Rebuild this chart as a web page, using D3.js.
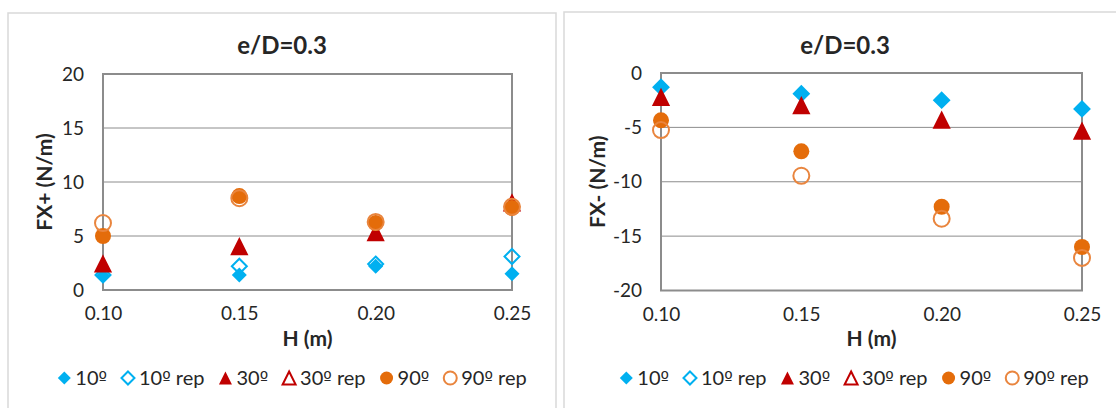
<!DOCTYPE html>
<html>
<head>
<meta charset="utf-8">
<script src="https://cdn.jsdelivr.net/npm/d3@7/dist/d3.min.js"></script>
<style>
  html, body { margin: 0; padding: 0; background: #fff; }
  svg { display: block; }
  text { font-family: Lato, "Open Sans", sans-serif; fill: #262626; }
</style>
</head>
<body>
<svg id="chart" width="1116" height="408"></svg>
<script>
// Wave height (m)
const heights = [0.10, 0.15, 0.20, 0.25];
const xTickLabels = ["0.10", "0.15", "0.20", "0.25"];

// Positive horizontal force FX+ (N/m)
const fxPos10 = [1.3, 1.4, 2.2, 1.5];
const fxPos10rep = [1.4, 2.2, 2.4, 3.1];
const fxPos30 = [2.4, 4.0, 5.3, 8.05];
const fxPos30rep = [2.4, 4.0, 5.3, 8.05];
const fxPos90 = [5.0, 8.7, 6.2, 7.6];
const fxPos90rep = [6.2, 8.5, 6.3, 7.7];

// Negative horizontal force FX- (N/m)
const fxNeg10 = [-1.3, -1.9, -2.5, -3.3];
const fxNeg10rep = [-1.3, -1.9, -2.5, -3.3];
const fxNeg30 = [-2.25, -3.0, -4.35, -5.35];
const fxNeg30rep = [-2.25, -3.0, -4.35, -5.35];
const fxNeg90 = [-4.35, -7.2, -12.3, -16.0];
const fxNeg90rep = [-5.25, -9.45, -13.4, -17.0];

const yTicksPos = [0, 5, 10, 15, 20];
const yTicksNeg = [-20, -15, -10, -5, 0];

const seriesNames = ["10º", "10º rep", "30º", "30º rep", "90º", "90º rep"];

// marker style per series
const styles = [
  { shape: "diamond", fill: "#00B0F0", stroke: "none" },
  { shape: "diamond", fill: "none", stroke: "#00B0F0" },
  { shape: "triangle", fill: "#C00000", stroke: "none" },
  { shape: "triangle", fill: "none", stroke: "#C00000" },
  { shape: "circle", fill: "#E46C0A", stroke: "none" },
  { shape: "circle", fill: "none", stroke: "#E9853E" }
];

function markerPath(shape, s) {
  const h = s / 2;
  if (shape === "diamond") return `M0,${-h}L${h},0L0,${h}L${-h},0Z`;
  if (shape === "triangle") return `M0,${-h}L${h},${h}L${-h},${h}Z`;
  const p = d3.path();
  p.arc(0, 0, h, 0, 2 * Math.PI);
  p.closePath();
  return p.toString();
}

// write a label, giving the ordinal sign a face that draws it underlined
function ordinalText(sel, str) {
  str.split(/(º)/).filter(s => s.length).forEach(part => {
    const ts = sel.append("tspan").text(part);
    if (part === "º") ts.attr("font-family", "'DejaVu Sans', sans-serif").attr("font-size", "0.9em");
  });
}

const svg = d3.select("#chart");

function drawPanel(cfg) {
  const g = svg.append("g");

  // outer frame
  g.append("rect")
    .attr("x", cfg.frame[0]).attr("y", cfg.frame[1])
    .attr("width", cfg.frame[2]).attr("height", cfg.frame[3])
    .attr("fill", "#fff").attr("stroke", "#D9D9D9").attr("stroke-width", 1.5);

  const x = d3.scaleLinear().domain([0.10, 0.25]).range([cfg.left, cfg.right]);
  const y = d3.scaleLinear().domain(cfg.yDomain).range([cfg.bottom, cfg.top]);

  // horizontal gridlines
  g.append("g").selectAll("line").data(cfg.yTicks).join("line")
    .attr("x1", cfg.left).attr("x2", cfg.right)
    .attr("y1", d => y(d)).attr("y2", d => y(d))
    .attr("stroke", "#8C8C8C").attr("stroke-width", 1);

  // plot area border
  g.append("rect")
    .attr("x", cfg.left).attr("y", cfg.top)
    .attr("width", cfg.right - cfg.left).attr("height", cfg.bottom - cfg.top)
    .attr("fill", "none").attr("stroke", "#8C8C8C").attr("stroke-width", 2);

  // y axis labels
  const yAxis = d3.axisLeft(y).tickValues(cfg.yTicks).tickSize(0).tickPadding(19)
    .tickFormat(d => d3.format("d")(d).replace("−", "-"));
  const ya = g.append("g").attr("transform", `translate(${cfg.left},0)`).call(yAxis);
  ya.select(".domain").remove();
  ya.selectAll("text").attr("font-size", 19).attr("fill", "#262626")
    .attr("font-family", "Lato, sans-serif");

  // x axis labels
  const xAxis = d3.axisBottom(x).tickValues(heights).tickSize(0).tickPadding(17)
    .tickFormat((d, i) => xTickLabels[i]);
  const xa = g.append("g").attr("transform", `translate(0,${cfg.bottom})`).call(xAxis);
  xa.select(".domain").remove();
  xa.selectAll("text").attr("font-size", 19).attr("fill", "#262626")
    .attr("font-family", "Lato, sans-serif");

  // series markers
  cfg.series.forEach((vals, si) => {
    const st = styles[si];
    g.append("g").selectAll("path").data(vals).join("path")
      .attr("transform", (d, i) => `translate(${x(heights[i])},${y(d)})`)
      .attr("d", markerPath(st.shape, st.shape === "circle" ? 16 : 15))
      .attr("fill", st.fill)
      .attr("stroke", st.stroke)
      .attr("stroke-width", st.stroke === "none" ? 0 : 2);
  });

  // title
  g.append("text")
    .attr("x", cfg.frame[0] + cfg.frame[2] / 2).attr("y", 54)
    .attr("text-anchor", "middle").attr("font-size", 24).attr("font-weight", "bold")
    .text("e/D=0.3");

  // axis titles
  g.append("text")
    .attr("x", (cfg.left + cfg.right) / 2).attr("y", 346)
    .attr("text-anchor", "middle").attr("font-size", 21).attr("font-weight", "bold")
    .text("H (m)");
  g.append("text")
    .attr("transform", `translate(${cfg.yTitleX},${(cfg.top + cfg.bottom) / 2}) rotate(-90)`)
    .attr("text-anchor", "middle").attr("font-size", 21).attr("font-weight", "bold")
    .text(cfg.yTitle);

  // legend: marker, gap, label, wider gap, next marker
  const lg = g.append("g");
  let cx = 0;
  seriesNames.forEach((name, si) => {
    const st = styles[si];
    lg.append("path")
      .attr("transform", `translate(${cx + 7},0)`)
      .attr("d", markerPath(st.shape, 13))
      .attr("fill", st.fill).attr("stroke", st.stroke)
      .attr("stroke-width", st.stroke === "none" ? 0 : 2);
    const t = lg.append("text")
      .attr("x", cx + 18).attr("y", 7)
      .attr("font-size", 20);
    ordinalText(t, name);
    cx += 18 + t.node().getComputedTextLength() + 14;
  });
  const total = cx - 14;
  lg.attr("transform", `translate(${cfg.legendCenter - total / 2},378)`);
}

drawPanel({
  frame: [8, 13, 548, 420],
  left: 103, right: 512, top: 74, bottom: 290,
  yDomain: [0, 20], yTicks: yTicksPos,
  yTitle: "FX+ (N/m)", yTitleX: 52,
  legendCenter: 292,
  series: [fxPos10, fxPos10rep, fxPos30, fxPos30rep, fxPos90, fxPos90rep]
});

drawPanel({
  frame: [564, 12, 562, 420],
  left: 661, right: 1082, top: 73, bottom: 290.5,
  yDomain: [-20, 0], yTicks: yTicksNeg,
  yTitle: "FX- (N/m)", yTitleX: 605,
  legendCenter: 854,
  series: [fxNeg10, fxNeg10rep, fxNeg30, fxNeg30rep, fxNeg90, fxNeg90rep]
});
</script>
</body>
</html>
